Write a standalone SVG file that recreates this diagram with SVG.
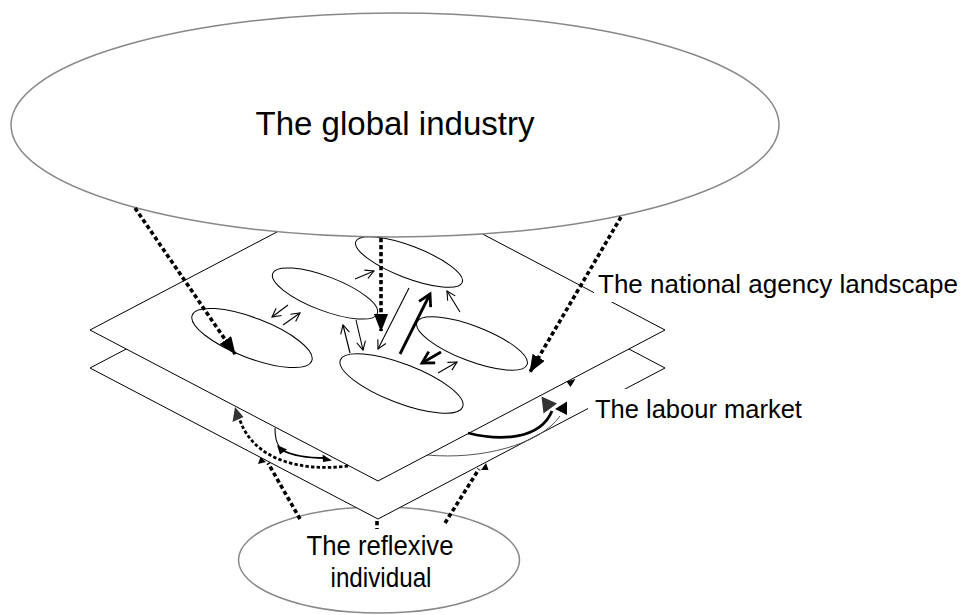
<svg xmlns="http://www.w3.org/2000/svg" width="961" height="615" viewBox="0 0 961 615">
<style>
.big{fill:#fff;stroke:#888;stroke-width:1.5}
.plane{fill:#fff;stroke:#000;stroke-width:1}
.sm{fill:#fff;stroke:#000;stroke-width:1}
.lbl{font-family:"Liberation Sans",Arial,sans-serif;fill:#000}
.dot{fill:none;stroke:#000;stroke-width:3.6;stroke-dasharray:4.2 2.8}
.dot2{fill:none;stroke:#000;stroke-width:2.8;stroke-dasharray:3.4 2.2}
.thin{fill:none;stroke:#000;stroke-width:1.1}
.thick{fill:none;stroke:#000;stroke-width:2.8}
.mid{fill:none;stroke:#000;stroke-width:1.8}
</style>
<defs>
<marker id="tri" markerUnits="userSpaceOnUse" markerWidth="18" markerHeight="14" viewBox="0 0 18 14" refX="17" refY="7" orient="auto"><path d="M0,0 L18,7 L0,14 z" fill="#000"/></marker>
<marker id="open" markerUnits="userSpaceOnUse" markerWidth="11" markerHeight="11" viewBox="0 0 11 11" refX="9.5" refY="5.5" orient="auto"><path d="M1,1 L9.5,5.5 L1,10" fill="none" stroke="#000" stroke-width="1.1"/></marker>
<marker id="openT" markerUnits="userSpaceOnUse" markerWidth="16" markerHeight="16" viewBox="0 0 16 16" refX="13" refY="8" orient="auto"><path d="M1.5,1.5 L13,8 L1.5,14.5" fill="none" stroke="#000" stroke-width="2.8"/></marker>
</defs>

<g id="reflexive-individual">
<ellipse class="big" cx="379" cy="560" rx="140.5" ry="53"/>
</g>

<g id="labour-market">
<polygon class="plane" points="90,368 378,217 665,368 378,519"/>
</g>

<g id="national-agency-landscape">
<polygon class="plane" points="90,330 378,179 665,330 378,481"/>
</g>

<g id="agency-a"><ellipse class="sm" cx="252" cy="338" rx="64" ry="20" transform="rotate(21 252 338)"/></g>
<g id="agency-b"><ellipse class="sm" cx="325" cy="293.5" rx="56" ry="17" transform="rotate(21 325 293.5)"/></g>
<g id="agency-c"><ellipse class="sm" cx="409" cy="262" rx="57" ry="16" transform="rotate(21 409 262)"/></g>
<g id="agency-d"><ellipse class="sm" cx="472" cy="343.5" rx="59" ry="17.5" transform="rotate(21 472 343.5)"/></g>
<g id="agency-e"><ellipse class="sm" cx="401.5" cy="383.5" rx="65.5" ry="19.5" transform="rotate(21 401.5 383.5)"/></g>

<g id="global-industry">
<ellipse class="big" cx="395" cy="125" rx="384" ry="112"/>
<text class="lbl" x="395" y="135" font-size="33" text-anchor="middle">The global industry</text>
</g>

<g id="label-national">
<rect x="594" y="270" width="366" height="32" fill="#fff"/>
<text class="lbl" x="598" y="293" font-size="26">The national agency landscape</text>
</g>

<g id="label-labour">
<rect x="588" y="389" width="222" height="36" fill="#fff"/>
<text class="lbl" x="595" y="418" font-size="25.5">The labour market</text>
</g>

<g id="label-reflexive">
<text class="lbl" x="380" y="555" font-size="28" text-anchor="middle" textLength="147" lengthAdjust="spacingAndGlyphs">The reflexive</text>
<text class="lbl" x="381" y="587" font-size="28" text-anchor="middle" textLength="101" lengthAdjust="spacingAndGlyphs">individual</text>
</g>

<g id="connectors">
<line class="dot" x1="135" y1="208" x2="235" y2="354" marker-end="url(#tri)"/>
<line class="dot" x1="381" y1="238" x2="381" y2="331" marker-end="url(#tri)"/>
<line class="dot" x1="621" y1="217" x2="530" y2="372" marker-end="url(#tri)"/>
<line class="dot" x1="300" y1="519" x2="268" y2="463"/>
<polygon points="260.5,457 258,464 266,462" fill="#000"/>
<line class="dot" x1="377" y1="521" x2="377" y2="529"/>
<line class="dot" x1="445" y1="523" x2="479" y2="469"/>
<polygon points="486,463 481,470 488.5,470" fill="#000"/>
<polygon points="575.5,379 566.5,381.5 570.5,387" fill="#000"/>
<line class="thin" x1="288" y1="305" x2="272" y2="317" marker-end="url(#open)"/>
<line class="thin" x1="283" y1="325" x2="300" y2="313" marker-end="url(#open)"/>
<line class="thin" x1="355" y1="279" x2="374" y2="271" marker-end="url(#open)"/>
<line class="thin" x1="350" y1="353" x2="343" y2="325" marker-end="url(#open)"/>
<line class="thin" x1="356" y1="320" x2="363" y2="350" marker-end="url(#open)"/>
<line class="thin" x1="409" y1="288" x2="378" y2="349" marker-end="url(#open)"/>
<line class="thick" x1="400" y1="354" x2="430" y2="294" marker-end="url(#openT)"/>
<line class="thin" x1="460" y1="312" x2="447" y2="291" marker-end="url(#open)"/>
<line class="thick" x1="441" y1="352" x2="422" y2="363" marker-end="url(#openT)"/>
<line class="thin" x1="438" y1="373" x2="457" y2="362" marker-end="url(#open)"/>
<path class="dot2" d="M348,466 C300,472 250,460 238,414"/>
<polygon points="235,407 232.5,422 243.5,417" fill="#333"/>
<path class="thin" d="M275,428 C275,436 276,442 279,446"/>
<path class="mid" d="M282,450 C295,457 310,458 325,458"/>
<polygon points="277,445 280,454.5 287,449.5" fill="#000"/>
<polygon points="322.5,454.5 323,462 332,460.5" fill="#000"/>
<path fill="none" stroke="#555" stroke-width="1" d="M427,455 C480,460 540,445 560,416"/>
<path class="thick" d="M468,433 C500,441 540,440 552,411"/>
<polygon points="541.5,396.5 543.5,413.5 557,403.5" fill="#333"/>
<polygon points="567,401.5 567,415 555,409" fill="#000"/>
</g>
</svg>
